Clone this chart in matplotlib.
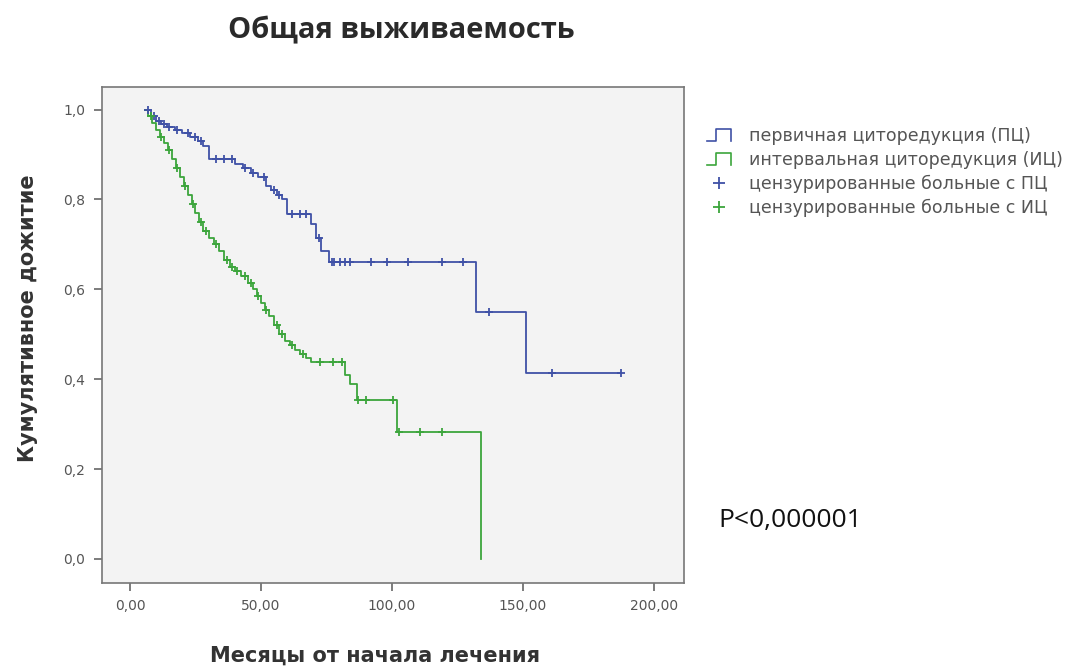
import numpy as np
import matplotlib
matplotlib.use("Agg")
import matplotlib.pyplot as plt
from matplotlib.lines import Line2D
from matplotlib.legend_handler import HandlerBase

# Kaplan-Meier steps (months, cumulative survival)
pc_times = [5.7, 8, 10, 12, 14, 17, 20, 23, 26, 28, 30, 40, 43, 46, 49, 52, 54, 56, 58, 60,
            69, 71, 73, 76, 132, 151, 187.6]
pc_surv = [1.0, 0.985, 0.975, 0.968, 0.962, 0.955, 0.948, 0.94, 0.93, 0.92, 0.89, 0.88, 0.87,
           0.86, 0.85, 0.83, 0.82, 0.81, 0.80, 0.767, 0.745, 0.715, 0.685, 0.661, 0.55, 0.413, 0.413]
pc_censored = [7, 9, 11, 13, 15, 18, 22, 25, 27, 33, 36, 39, 44, 47, 51, 55, 57, 62, 65, 67,
               72, 77, 78, 80, 82, 84, 92, 98, 106, 119, 127, 137, 161, 187.6]

ic_times = [5.7, 7, 8.5, 10, 11.5, 13, 14.5, 16, 17.5, 19, 20.5, 22, 23.5, 25, 26.5, 28, 30,
            32, 34, 36, 38, 40, 42.5, 45, 47, 48.5, 50, 51.5, 53, 55, 57, 59, 61, 63, 65, 67,
            69, 82, 84, 86.5, 102, 134]
ic_surv = [1.0, 0.985, 0.97, 0.955, 0.94, 0.925, 0.91, 0.89, 0.87, 0.85, 0.83, 0.81, 0.79,
           0.77, 0.75, 0.73, 0.715, 0.70, 0.685, 0.665, 0.65, 0.64, 0.63, 0.615, 0.60, 0.585,
           0.57, 0.555, 0.54, 0.52, 0.50, 0.485, 0.475, 0.465, 0.455, 0.447, 0.439, 0.41, 0.39,
           0.353, 0.283, 0.0]
ic_censored = [8, 12, 15, 18, 21, 24, 27, 29, 33, 37, 39, 41, 44, 46, 49, 52, 56, 58, 62, 66,
               72.5, 77.6, 80.8, 87, 90, 100.5, 102.5, 110.7, 119]

x_ticks = [0, 50, 100, 150, 200]
x_labels = ['0,00', '50,00', '100,00', '150,00', '200,00']
y_ticks = [0.0, 0.2, 0.4, 0.6, 0.8, 1.0]
y_labels = ['0,0', '0,2', '0,4', '0,6', '0,8', '1,0']

blue = '#3f51a6'
green = '#3ca53c'
gray = '#555555'


def surv_at(times, surv, t):
    i = np.searchsorted(times, t, side='right') - 1
    return np.array(surv)[i]


class StepHandler(HandlerBase):
    # the little "_П" step glyph SPSS puts in the legend
    def create_artists(self, legend, orig_handle, xdescent, ydescent, width, height, fontsize, trans):
        x0, y0 = -xdescent, -ydescent
        xs = [x0, x0 + 0.35 * width, x0 + 0.35 * width, x0 + width, x0 + width]
        ys = [y0, y0, y0 + height * 0.95, y0 + height * 0.95, y0]
        ln = Line2D(xs, ys, color=orig_handle.get_color(), lw=1.2, transform=trans)
        return [ln]


fig = plt.figure(figsize=(10.73, 6.68), dpi=100)
ax = fig.add_axes([0.0948, 0.1277, 0.5427, 0.7425])
ax.set_facecolor('#f3f3f3')

ax.step(pc_times, pc_surv, where='post', color=blue, lw=1.3)
ax.step(ic_times, ic_surv, where='post', color=green, lw=1.3)
ax.plot(pc_censored, surv_at(pc_times, pc_surv, pc_censored), ls='none', marker='+',
        ms=6, mew=1.3, color=blue)
ax.plot(ic_censored, surv_at(ic_times, ic_surv, ic_censored), ls='none', marker='+',
        ms=6, mew=1.3, color=green)

ax.set_xlim(-10.8, 211.5)
ax.set_ylim(-0.053, 1.051)
ax.set_xticks(x_ticks)
ax.set_xticklabels(x_labels)
ax.set_yticks(y_ticks)
ax.set_yticklabels(y_labels)
ax.tick_params(direction='out', length=6, width=1.2, color='#666666', labelsize=10,
               labelcolor=gray, pad=6)
for sp in ax.spines.values():
    sp.set_color('#777777')
    sp.set_linewidth(1.2)

fig.text(375 / 1073, 1 - 656 / 668, 'Месяцы от начала лечения', ha='center', va='center',
         fontsize=15, fontweight='bold', color='#333333')
fig.text(28 / 1073, 1 - 318 / 668, 'Кумулятивное дожитие', ha='center', va='center',
         rotation=90, fontsize=15, fontweight='bold', color='#333333')
fig.text(401 / 1073, 1 - 31 / 668, 'Общая выживаемость', ha='center', va='center', fontsize=21,
         fontweight='bold', family='Open Sans', color='#2a2a2a')

h1 = Line2D([], [], color=blue)
h2 = Line2D([], [], color=green)
h3 = Line2D([], [], ls='none', marker='+', ms=8, mew=1.3, color=blue)
h4 = Line2D([], [], ls='none', marker='+', ms=8, mew=1.3, color=green)
fig.legend([h1, h2, h3, h4],
           ['первичная циторедукция (ПЦ)', 'интервальная циторедукция (ИЦ)',
            'цензурированные больные с ПЦ', 'цензурированные больные с ИЦ'],
           handler_map={h1: StepHandler(), h2: StepHandler()},
           loc='upper left', bbox_to_anchor=(707 / 1073, 1 - 127 / 668), frameon=False,
           fontsize=12.5, labelcolor=gray, handlelength=1.4, handletextpad=1.0,
           labelspacing=0.33, borderpad=0, borderaxespad=0)

fig.text(718 / 1073, 1 - 520 / 668, 'P<0,000001', ha='left', va='center', fontsize=19,
         family='Open Sans', color='#111111')

fig.savefig('out.png', dpi=100)
